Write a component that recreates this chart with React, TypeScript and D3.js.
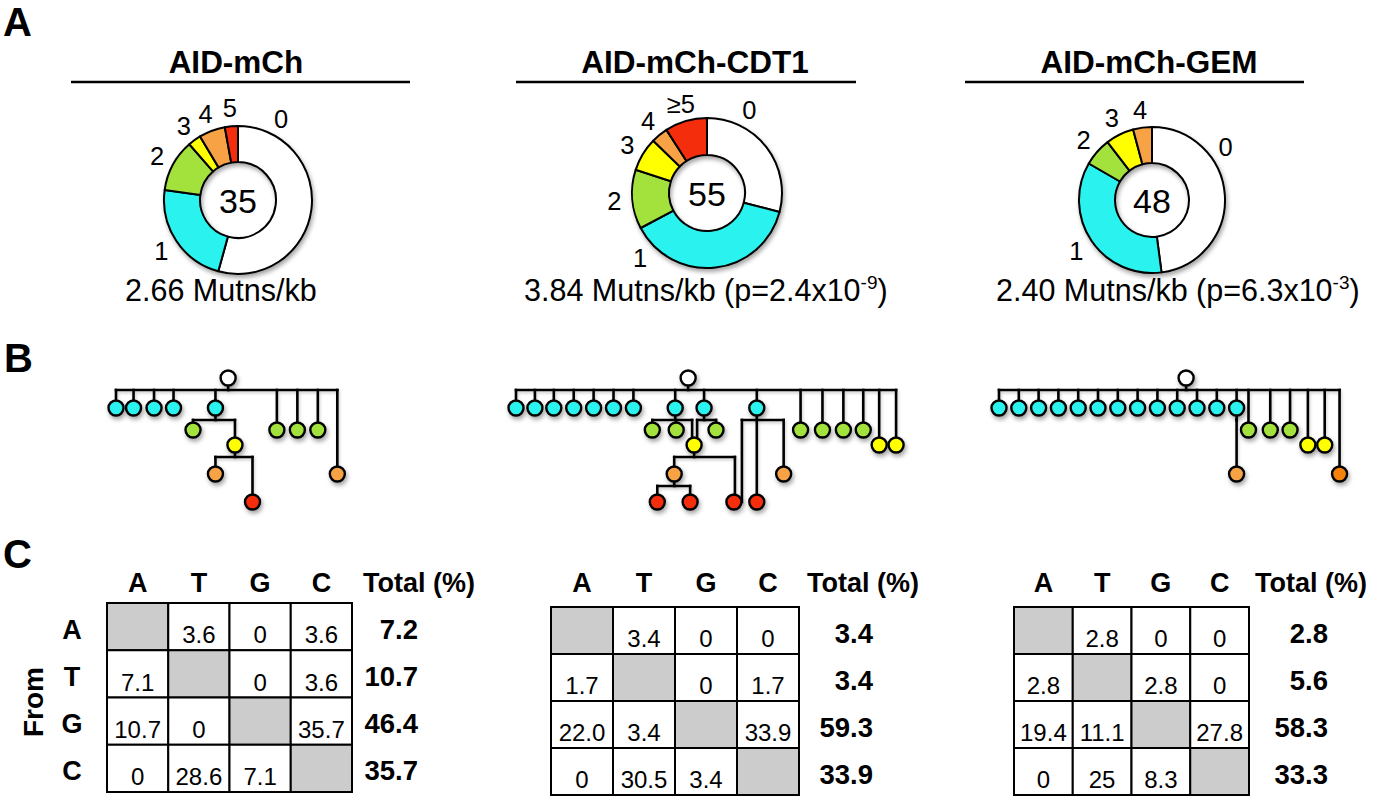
import React from 'react';
import * as d3 from 'd3';

const FONT = "'Liberation Sans', Arial, Helvetica, sans-serif";

// ---------- Panel A data ----------
const levelColors = ['#ffffff', '#2cf2ef', '#a3e23c', '#ffff00', '#f6a244', '#f42d0b'];
const donutTitles = ['AID-mCh', 'AID-mCh-CDT1', 'AID-mCh-GEM'];
const donutLabels = [
  ['0', '1', '2', '3', '4', '5'],
  ['0', '1', '2', '3', '4', '\u22655'],
  ['0', '1', '2', '3', '4'],
];
const donutCounts = [
  [19, 8, 4, 1, 2, 1],
  [16, 21, 7, 4, 2, 5],
  [23, 17, 3, 3, 2],
];
const donutTotals = [35, 55, 48];
const mutRates = ['2.66', '3.84', '2.40'];
const pMantissa = [null, '2.4', '6.3'];
const pExponent = [null, '-9', '-3'];
const labelAngleOverrides: (number | null)[][] = [[28], [27, 226], [54]];

// ---------- Panel B data (id, slot, mutation level, optional fill) ----------
type TNode = [string, number, number, string?];
const tree1Nodes: TNode[] = [
  ['root', 5.75, 0],
  ['a1', 0, 1], ['a2', 0.9, 1], ['a3', 1.95, 1], ['a4', 2.95, 1], ['a5', 5.1, 1],
  ['b1', 3.95, 2], ['y1', 6.1, 3], ['o1', 5.1, 4], ['r1', 7.0, 5],
  ['g1', 8.25, 2], ['g2', 9.3, 2], ['g3', 10.35, 2], ['o2', 11.35, 4],
];
const tree1Edges: [string, string, number?][] = [
  ['root', 'a1'], ['root', 'a2'], ['root', 'a3'], ['root', 'a4'], ['root', 'a5'],
  ['root', 'g1'], ['root', 'g2'], ['root', 'g3'], ['root', 'o2'],
  ['a5', 'b1'], ['a5', 'y1'], ['y1', 'o1'], ['y1', 'r1'],
];
const tree2Nodes: TNode[] = [
  ['root', 8.65, 0],
  ['c1', 0, 1], ['c2', 0.95, 1], ['c3', 1.9, 1], ['c4', 2.9, 1], ['c5', 3.9, 1],
  ['c6', 4.9, 1], ['c7', 5.9, 1], ['c8', 8.0, 1], ['c9', 9.45, 1], ['c10', 12.1, 1],
  ['s1', 6.85, 2], ['s2', 8.05, 2], ['s3', 10.05, 2],
  ['y', 8.95, 3], ['o', 7.95, 4],
  ['r1', 7.1, 5], ['r2', 8.75, 5], ['r3', 10.95, 5], ['r4', 12.1, 5],
  ['o2', 13.45, 4],
  ['g1', 14.3, 2], ['g2', 15.4, 2], ['g3', 16.45, 2], ['g4', 17.45, 2],
  ['yy1', 18.25, 3], ['yy2', 19.1, 3],
];
const tree2Edges: [string, string, number?][] = [
  ['root', 'c1'], ['root', 'c2'], ['root', 'c3'], ['root', 'c4'], ['root', 'c5'],
  ['root', 'c6'], ['root', 'c7'], ['root', 'c8'], ['root', 'c9'], ['root', 'c10'],
  ['root', 'g1'], ['root', 'g2'], ['root', 'g3'], ['root', 'g4'], ['root', 'yy1'], ['root', 'yy2'],
  ['c8', 's1'], ['c8', 's2'], ['c8', 'y', -2],
  ['c9', 'y', 3], ['c9', 's3'],
  ['y', 'o'], ['y', 'r3', 1],
  ['o', 'r1'], ['o', 'r2'],
  ['c10', 'r3', 8], ['c10', 'r4'], ['c10', 'o2'],
];
const tree3Nodes: TNode[] = [
  ['root', 9.45, 0],
  ['c1', 0, 1], ['c2', 1, 1], ['c3', 2, 1], ['c4', 3, 1], ['c5', 4, 1], ['c6', 5, 1], ['c7', 6, 1],
  ['c8', 7, 1], ['c9', 8, 1], ['c10', 9, 1], ['c11', 10, 1], ['c12', 11, 1], ['c13', 12, 1],
  ['o1', 12, 4],
  ['g1', 12.6, 2], ['g2', 13.7, 2], ['g3', 14.7, 2],
  ['y1', 15.6, 3], ['y2', 16.45, 3],
  ['o2', 17.2, 4, '#f3820f'],
];
const tree3Edges: [string, string, number?][] = [
  ['root', 'c1'], ['root', 'c2'], ['root', 'c3'], ['root', 'c4'], ['root', 'c5'], ['root', 'c6'],
  ['root', 'c7'], ['root', 'c8'], ['root', 'c9'], ['root', 'c10'], ['root', 'c11'], ['root', 'c12'],
  ['root', 'c13'], ['root', 'g1'], ['root', 'g2'], ['root', 'g3'], ['root', 'y1'], ['root', 'y2'], ['root', 'o2'],
  ['c13', 'o1'],
];

// ---------- Panel C data ----------
const bases = ['A', 'T', 'G', 'C'];
const table1 = [
  [null, '3.6', '0', '3.6'],
  ['7.1', null, '0', '3.6'],
  ['10.7', '0', null, '35.7'],
  ['0', '28.6', '7.1', null],
];
const totals1 = ['7.2', '10.7', '46.4', '35.7'];
const table2 = [
  [null, '3.4', '0', '0'],
  ['1.7', null, '0', '1.7'],
  ['22.0', '3.4', null, '33.9'],
  ['0', '30.5', '3.4', null],
];
const totals2 = ['3.4', '3.4', '59.3', '33.9'];
const table3 = [
  [null, '2.8', '0', '0'],
  ['2.8', null, '2.8', '0'],
  ['19.4', '11.1', null, '27.8'],
  ['0', '25', '8.3', null],
];
const totals3 = ['2.8', '5.6', '58.3', '33.3'];

// ---------- layout ----------
const donutLayout = [
  { cx: 238, cy: 200, ro: 74, ri: 38, tx: 236, line: [71, 410], subX: 125 },
  { cx: 707, cy: 193, ro: 75, ri: 38, tx: 695, line: [516, 856], subX: 524 },
  { cx: 1152, cy: 200, ro: 73, ri: 37, tx: 1149, line: [965, 1304], subX: 996 },
];
const treeLayout = [
  { x0: 116, unit: 19.5, nodes: tree1Nodes, edges: tree1Edges },
  { x0: 516, unit: 19.9, nodes: tree2Nodes, edges: tree2Edges },
  { x0: 999, unit: 19.8, nodes: tree3Nodes, edges: tree3Edges },
];
const tableLayout = [
  { x: [107, 352], y: [603, 792], totalX: 363, totalRight: 418, data: table1, totals: totals1, rowLabels: true },
  { x: [551, 799], y: [607, 795], totalX: 807, totalRight: 873, data: table2, totals: totals2, rowLabels: false },
  { x: [1014, 1249], y: [607, 795], totalX: 1255, totalRight: 1328, data: table3, totals: totals3, rowLabels: false },
];

function Donut({ i }: { i: number }) {
  const L = donutLayout[i];
  const counts = donutCounts[i];
  const pie = d3.pie<number>().sort(null).value((d) => d);
  const arcs = pie(counts);
  const arc = d3.arc<d3.PieArcDatum<number>>().innerRadius(L.ri).outerRadius(L.ro);
  const labelR = L.ro + 18;
  return (
    <g>
      <text x={L.tx} y={73} textAnchor="middle" fontSize={31.5} fontWeight="bold" fontFamily={FONT}>
        {donutTitles[i]}
      </text>
      <line x1={L.line[0]} x2={L.line[1]} y1={82} y2={82} stroke="#000" strokeWidth={2.5} />
      <g transform={`translate(${L.cx},${L.cy})`} filter="url(#shadow)">
        {arcs.map((a, k) => (
          <path key={k} d={arc(a) || ''} fill={levelColors[k]} stroke="#000" strokeWidth={2} strokeLinejoin="round" />
        ))}
      </g>
      <text x={L.cx} y={L.cy + 1} textAnchor="middle" dominantBaseline="central" fontSize={34} fontFamily={FONT}>
        {donutTotals[i]}
      </text>
      {arcs.map((a, k) => {
        const ov = labelAngleOverrides[i][k];
        const ang = ov != null ? (ov * Math.PI) / 180 : (a.startAngle + a.endAngle) / 2;
        const x = L.cx + labelR * Math.sin(ang);
        const y = L.cy - labelR * Math.cos(ang);
        return (
          <text key={k} x={x} y={y} textAnchor="middle" dominantBaseline="central" fontSize={25.5} fontFamily={FONT}>
            {donutLabels[i][k]}
          </text>
        );
      })}
      <text x={L.subX} y={301} fontSize={30.5} fontFamily={FONT}>
        {mutRates[i]} Mutns/kb
        {pMantissa[i] && (
          <>
            {` (p=${pMantissa[i]}x10`}
            <tspan dy={-12} fontSize={19}>{pExponent[i]}</tspan>
            <tspan dy={12}>)</tspan>
          </>
        )}
      </text>
    </g>
  );
}

function Tree({ i }: { i: number }) {
  const T = treeLayout[i];
  const maxSlot = d3.max(T.nodes, (n) => n[1]) as number;
  const x = d3.scaleLinear().domain([0, maxSlot]).range([T.x0, T.x0 + maxSlot * T.unit]);
  const y = d3.scaleLinear().domain([0, 1, 2, 3, 4, 5]).range([378, 408, 430, 445, 474, 502]);
  const byId = new Map(T.nodes.map((n) => [n[0], n]));
  const groups = d3.group(T.edges, (e) => e[0]);
  const lines: JSX.Element[] = [];
  let key = 0;
  groups.forEach((edges, pid) => {
    const p = byId.get(pid)!;
    const px = x(p[1]);
    const py = y(p[2]);
    const barY = py + 12;
    const drops = edges.map((e) => {
      const c = byId.get(e[1])!;
      return { x: x(c[1]) + (e[2] || 0), y: y(c[2]) };
    });
    const xs = drops.map((d) => d.x).concat([px]);
    lines.push(<line key={key++} x1={px} x2={px} y1={py} y2={barY} />);
    lines.push(<line key={key++} x1={d3.min(xs)!} x2={d3.max(xs)!} y1={barY} y2={barY} />);
    drops.forEach((d) => {
      lines.push(<line key={key++} x1={d.x} x2={d.x} y1={barY} y2={d.y} />);
    });
  });
  return (
    <g>
      <g stroke="#000" strokeWidth={2.6} strokeLinecap="square" filter="url(#shadowLight)">{lines}</g>
      <g filter="url(#shadow)">
        {T.nodes.map((n) => (
          <circle key={n[0]} cx={x(n[1])} cy={y(n[2])} r={7.5} fill={n[3] || levelColors[n[2]]} stroke="#000" strokeWidth={2.4} />
        ))}
      </g>
    </g>
  );
}

function Table({ i }: { i: number }) {
  const T = tableLayout[i];
  const col = d3.scaleBand<number>().domain([0, 1, 2, 3]).range(T.x as [number, number]);
  const row = d3.scaleBand<number>().domain([0, 1, 2, 3]).range(T.y as [number, number]);
  const bw = col.bandwidth();
  const bh = row.bandwidth();
  return (
    <g fontFamily={FONT}>
      {bases.map((b, c) => (
        <text key={'h' + c} x={col(c)! + bw / 2} y={592} textAnchor="middle" fontSize={27} fontWeight="bold">{b}</text>
      ))}
      <text x={T.totalX} y={592} fontSize={27} fontWeight="bold">Total (%)</text>
      {T.data.map((r, ri) =>
        r.map((v, ci) => (
          <g key={ri + '-' + ci}>
            <rect x={col(ci)} y={row(ri)} width={bw} height={bh} fill={v == null ? '#cccccc' : '#ffffff'} stroke="#000" strokeWidth={2} />
            {v != null && (
              <text x={col(ci)! + bw / 2} y={row(ri)! + bh - 7} textAnchor="middle" fontSize={24}>{v}</text>
            )}
          </g>
        ))
      )}
      {T.totals.map((t, ri) => (
        <text key={'t' + ri} x={T.totalRight} y={row(ri)! + bh / 2 + 12} textAnchor="end" fontSize={27.5} fontWeight="bold">{t}</text>
      ))}
      {T.rowLabels && bases.map((b, ri) => (
        <text key={'r' + ri} x={72} y={row(ri)! + bh / 2 + 12} textAnchor="middle" fontSize={27} fontWeight="bold">{b}</text>
      ))}
      {T.rowLabels && (
        <text transform={`translate(${43},${702}) rotate(-90)`} textAnchor="middle" fontSize={28} fontWeight="bold">From</text>
      )}
    </g>
  );
}

export default function App() {
  return (
    <svg width={1375} height={800} style={{ position: 'absolute', left: 0, top: 0, background: '#fff' }} fontFamily={FONT}>
      <defs>
        <filter id="shadow" x="-30%" y="-30%" width="160%" height="170%">
          <feDropShadow dx={1.5} dy={3} stdDeviation={2} floodColor="#000" floodOpacity={0.35} />
        </filter>
        <filter id="shadowLight" x="-10%" y="-10%" width="120%" height="130%">
          <feDropShadow dx={1} dy={2} stdDeviation={1.5} floodColor="#000" floodOpacity={0.2} />
        </filter>
      </defs>
      <rect width={1375} height={800} fill="#fff" />
      <text x={3} y={36} fontSize={40} fontWeight="bold">A</text>
      <text x={4} y={372} fontSize={40} fontWeight="bold">B</text>
      <text x={3} y={568} fontSize={40} fontWeight="bold">C</text>
      {[0, 1, 2].map((i) => <Donut key={'d' + i} i={i} />)}
      {[0, 1, 2].map((i) => <Tree key={'t' + i} i={i} />)}
      {[0, 1, 2].map((i) => <Table key={'c' + i} i={i} />)}
    </svg>
  );
}
